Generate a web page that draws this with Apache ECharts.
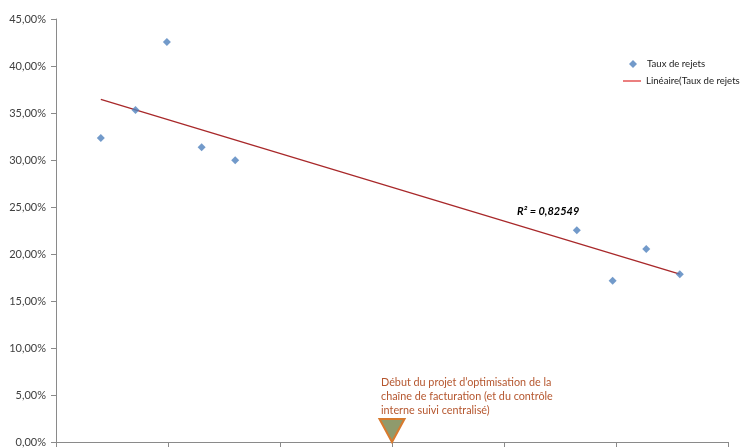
<!DOCTYPE html>
<html>
<head>
<meta charset="utf-8">
<script src="https://cdn.jsdelivr.net/npm/echarts@6/dist/echarts.min.js"></script>
<style>html,body{margin:0;padding:0;background:#fff;}#c{width:742px;height:448px;}</style>
</head>
<body>
<div id="c"></div>
<script>
// Data
const xValues = [0.40, 0.71, 0.99, 1.30, 1.60, 4.65, 4.97, 5.27, 5.57];
const rates = [32.34, 35.32, 42.55, 31.35, 29.97, 22.52, 17.16, 20.53, 17.84];
const trendX = [0.40, 5.57];
const trendY = [36.45, 17.87];
const yTicks = { min: 0, max: 45, interval: 5 };
const xTicks = { min: 0, max: 6, interval: 1 };
const annotationX = 3;
const seriesName = 'Taux de rejets';
const trendName = 'Linéaire(Taux de rejets';
const r2Text = 'R² = 0,82549';
const annotationLines = ['Début du projet d’optimisation de la', 'chaîne de facturation (et du contrôle', 'interne suivi centralisé)'];

const FONT = 'Lato, "Open Sans", sans-serif';
const chart = echarts.init(document.getElementById('c'), null, { renderer: 'canvas' });

chart.setOption({
  animation: false,
  backgroundColor: '#ffffff',
  textStyle: { fontFamily: FONT },
  grid: { left: 56, right: 14, top: 19, bottom: 6 },
  xAxis: {
    type: 'value', min: xTicks.min, max: xTicks.max, interval: xTicks.interval,
    axisLine: { show: true, lineStyle: { color: '#8a8a8a', width: 1 } },
    axisTick: { show: true, length: 5, lineStyle: { color: '#8a8a8a' } },
    axisLabel: { show: false },
    splitLine: { show: false }
  },
  yAxis: {
    type: 'value', min: yTicks.min, max: yTicks.max, interval: yTicks.interval,
    axisLine: { show: true, lineStyle: { color: '#8a8a8a', width: 1 } },
    axisTick: { show: true, length: 5, lineStyle: { color: '#8a8a8a' } },
    axisLabel: {
      margin: 10, color: '#404040', fontSize: 11, fontFamily: FONT,
      formatter: v => v.toFixed(2).replace('.', ',') + '%'
    },
    splitLine: { show: false }
  },
  legend: [
    {
      data: [seriesName], left: 629, top: 59, padding: 0, icon: 'diamond', itemWidth: 8, itemHeight: 8,
      textStyle: { fontSize: 9.6, color: '#222', fontFamily: FONT, padding: [0, 0, 0, 5] }
    },
    {
      data: [{ name: trendName, itemStyle: { color: '#e03a3a' } }], left: 623, top: 76, padding: 0, icon: 'rect',
      itemWidth: 18, itemHeight: 1.3,
      textStyle: { fontSize: 9.6, color: '#222', fontFamily: FONT }
    }
  ],
  graphic: [
    {
      type: 'text', left: 517, top: 206,
      style: { text: r2Text, fill: '#000', font: 'italic bold 11px ' + FONT }
    },
    {
      type: 'text', left: 381, top: 376,
      style: { text: annotationLines.join('\n'), fill: '#b5562e', font: '10.8px ' + FONT, lineHeight: 14 }
    }
  ],
  series: [
    {
      name: seriesName, type: 'scatter', symbol: 'diamond', symbolSize: 8,
      itemStyle: { color: '#4f81bd' },
      data: xValues.map((x, i) => [x, rates[i]]),
      z: 3,
      markPoint: {
        symbol: 'triangle', symbolSize: [25, 23], symbolRotate: 180, symbolOffset: [0, -11.5],
        itemStyle: { color: '#8f9a6c', borderColor: '#d87a2e', borderWidth: 2 },
        label: { show: false },
        data: [{ coord: [annotationX, 0] }]
      }
    },
    {
      name: trendName, type: 'line', showSymbol: false, symbol: 'none',
      lineStyle: { color: '#a8282a', width: 1.3 },
      itemStyle: { color: '#a8282a' },
      data: trendX.map((x, i) => [x, trendY[i]]),
      z: 2
    }
  ]
});
</script>
</body>
</html>
